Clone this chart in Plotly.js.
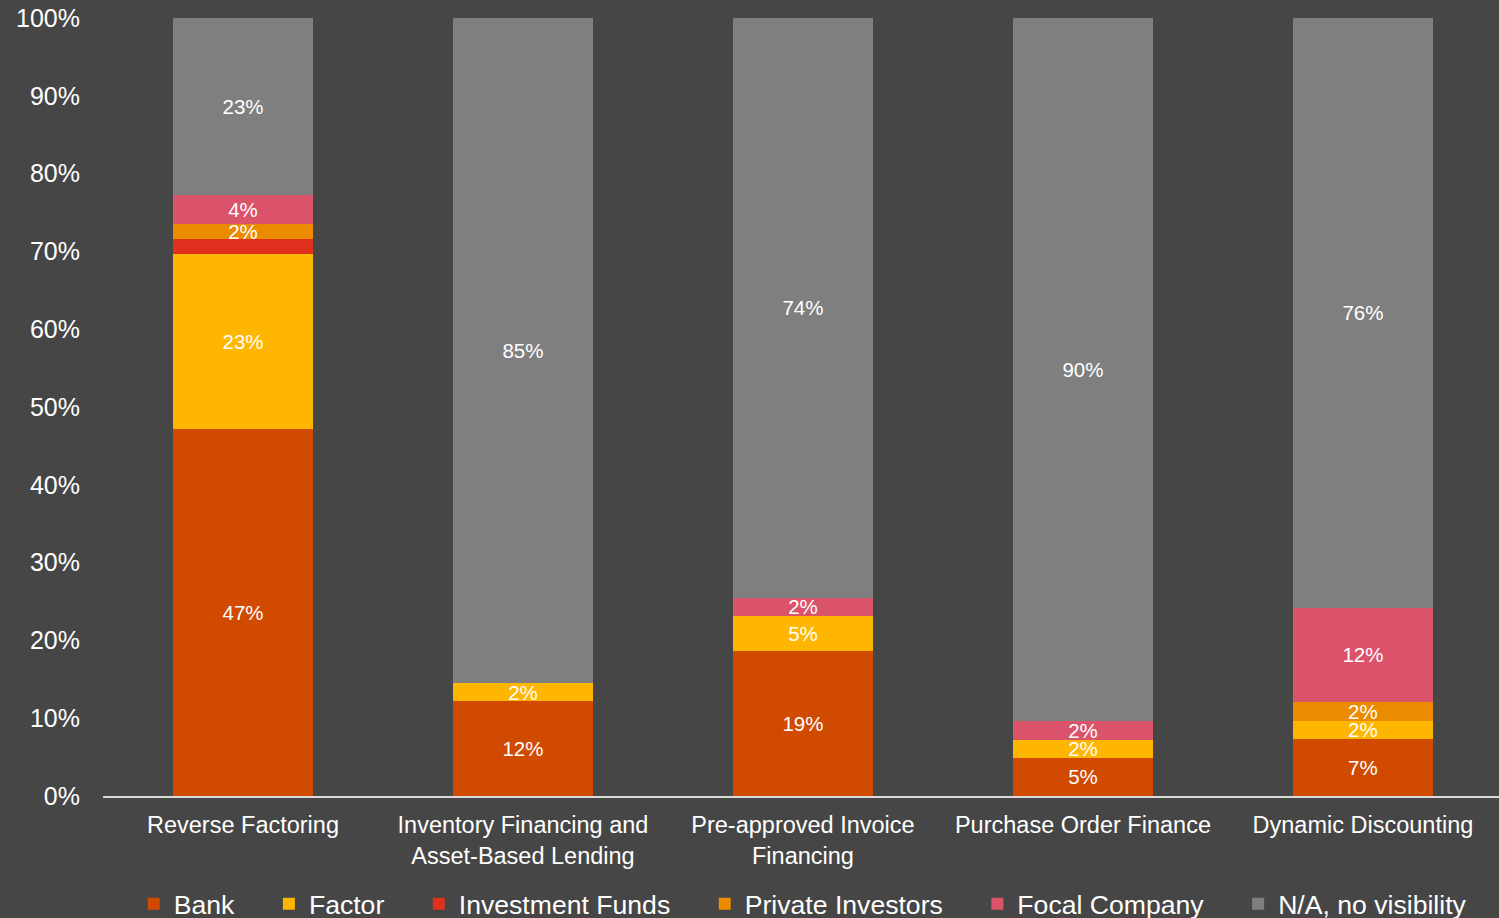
<!DOCTYPE html>
<html>
<head>
<meta charset="utf-8">
<script src="https://cdn.plot.ly/plotly-3.0.1.min.js"></script>
<style>
html,body{margin:0;padding:0;background:#464646;}
#chart{width:1499px;height:918px;}
</style>
</head>
<body>
<div id="chart"></div>
<script>
var categories = ["Reverse Factoring", "Inventory Financing and<br>Asset-Based Lending", "Pre-approved Invoice<br>Financing", "Purchase Order Finance", "Dynamic Discounting"];
var seriesNames = ["Bank", "Factor", "Investment Funds", "Private Investors", "Focal Company", "N/A, no visibility"];
var seriesColors = ["#d04a02", "#ffb600", "#e0301e", "#eb8c00", "#db536a", "#7f7f7f"];

var bank        = [47.2, 12.2, 18.6, 4.9, 7.3];
var factor      = [22.5, 2.3, 4.5, 2.3, 2.4];
var investFunds = [1.9, 0, 0, 0, 0];
var privateInv  = [1.9, 0, 0, 0, 2.4];
var focal       = [3.8, 0, 2.4, 2.4, 12.1];
var notVisible  = [22.7, 85.5, 74.5, 90.4, 75.8];

var bankLabels        = ["47%", "12%", "19%", "5%", "7%"];
var factorLabels      = ["23%", "2%", "5%", "2%", "2%"];
var investFundsLabels = ["", "", "", "", ""];
var privateInvLabels  = ["2%", "", "", "", "2%"];
var focalLabels       = ["4%", "", "2%", "2%", "12%"];
var notVisibleLabels  = ["23%", "85%", "74%", "90%", "76%"];

var yTickVals = [0, 10, 20, 30, 40, 50, 60, 70, 80, 90, 100];
var yTickText = ["0%", "10%", "20%", "30%", "40%", "50%", "60%", "70%", "80%", "90%", "100%"];

var values = [bank, factor, investFunds, privateInv, focal, notVisible];
var labels = [bankLabels, factorLabels, investFundsLabels, privateInvLabels, focalLabels, notVisibleLabels];

var pad = "\u00a0\u00a0\u00a0\u00a0";
var traces = values.map(function (v, i) {
  return {
    type: "bar",
    name: seriesNames[i] + pad,
    x: categories,
    y: v,
    text: labels[i],
    textposition: "inside",
    insidetextanchor: "middle",
    textangle: 0,
    textfont: {family: "Liberation Sans, Arial, sans-serif", size: 20.5, color: "#ffffff"},
    marker: {color: seriesColors[i], line: {width: 0}},
    hoverinfo: "skip"
  };
});

var layout = {
  width: 1499,
  height: 918,
  barmode: "stack",
  bargap: 0.5,
  paper_bgcolor: "#464646",
  plot_bgcolor: "#464646",
  margin: {l: 103, r: 0, t: 18, b: 122, pad: 0, autoexpand: false},
  font: {family: "Liberation Sans, Arial, sans-serif", color: "#ffffff"},
  uniformtext: {mode: "show", minsize: 20},
  showlegend: true,
  legend: {
    orientation: "h",
    x: 0.022, xanchor: "left",
    y: -0.108, yanchor: "top",
    font: {size: 26.6, color: "#ffffff", family: "Liberation Sans, Arial, sans-serif"},
    traceorder: "normal",
    bgcolor: "rgba(0,0,0,0)"
  },
  xaxis: {
    type: "category",
    range: [-0.5, 4.486],
    showgrid: false,
    zeroline: false,
    showline: true,
    linecolor: "#d9d9d9",
    linewidth: 2,
    ticks: "",
    ticklabelstandoff: 7,
    tickfont: {size: 23.5, color: "#ffffff"},
    fixedrange: true
  },
  yaxis: {
    range: [0, 100],
    tickvals: yTickVals,
    ticktext: yTickText,
    showgrid: false,
    zeroline: false,
    showline: false,
    ticks: "",
    ticklabelstandoff: 22,
    tickfont: {size: 25, color: "#ffffff"},
    fixedrange: true
  }
};

Plotly.newPlot("chart", traces, layout, {displayModeBar: false, staticPlot: true});
</script>
</body>
</html>
